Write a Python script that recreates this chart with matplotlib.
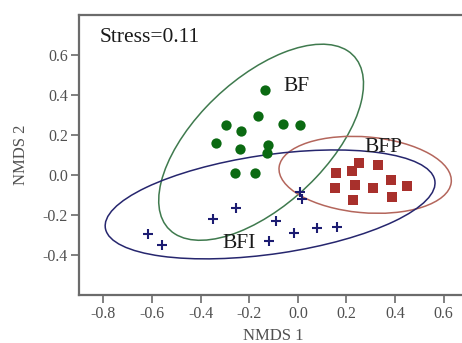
import matplotlib
matplotlib.use("Agg")
import matplotlib.pyplot as plt
from matplotlib.patches import Ellipse

# ── Data (NMDS scores) ───────────────────────────────────────────────────────
bf_x = [-0.136, -0.162, -0.296, -0.234, -0.059, 0.011,
        -0.337, -0.237, -0.121, -0.127, -0.258, -0.178]
bf_y = [0.425, 0.295, 0.249, 0.222, 0.255, 0.249,
        0.159, 0.132, 0.152, 0.108, 0.012, 0.012]

bfp_x = [0.155, 0.222, 0.252, 0.329, 0.382, 0.449,
         0.153, 0.234, 0.311, 0.389, 0.229]
bfp_y = [0.012, 0.019, 0.059, 0.049, -0.023, -0.057,
         -0.065, -0.048, -0.065, -0.108, -0.127]

bfi_x = [-0.618, -0.557, -0.347, -0.254, -0.089, -0.118,
         -0.016, 0.079, 0.162, 0.007, 0.019]
bfi_y = [-0.293, -0.352, -0.222, -0.165, -0.230, -0.328,
         -0.288, -0.265, -0.258, -0.085, -0.122]

# group ellipses: centre x, centre y, width, height, angle (data units)
ell_bf  = [-0.151, 0.164, 1.159, 0.573, 52.2]
ell_bfp = [0.277, 0.001, 0.712, 0.379, -6.5]
ell_bfi = [-0.114, -0.147, 1.376, 0.494, 10.3]

groups = ["BF", "BFP", "BFI"]
label_pos = [(-0.06, 0.445), (0.273, 0.139), (-0.312, -0.342)]
stress = 0.11

x_ticks = [-0.8, -0.6, -0.4, -0.2, 0.0, 0.2, 0.4, 0.6]
y_ticks = [-0.4, -0.2, 0.0, 0.2, 0.4, 0.6]

# ── Style ────────────────────────────────────────────────────────────────────
GREEN   = "#0b6a12"
GREEN_E = "#3f7a4e"
RED     = "#a8302c"
RED_E   = "#b4665c"
BLUE    = "#1c1c72"
BLUE_E  = "#26266e"
SPINE   = "#6b6b6b"
TICKTXT = "#505050"

plt.rcParams["font.family"] = ["Liberation Serif", "DejaVu Serif"]

fig = plt.figure(figsize=(4.62, 3.43), dpi=100)
ax = fig.add_axes([0.171, 0.140, 0.842, 0.816])

for (cx, cy, w, h, ang), col in [(ell_bf, GREEN_E), (ell_bfp, RED_E), (ell_bfi, BLUE_E)]:
    ax.add_patch(Ellipse((cx, cy), w, h, angle=ang, fill=False,
                         edgecolor=col, linewidth=1.1, zorder=2))

ax.scatter(bf_x, bf_y, s=55, marker="o", color=GREEN, linewidths=0, zorder=3)
ax.scatter(bfp_x, bfp_y, s=50, marker="s", color=RED, linewidths=0, zorder=3)
ax.scatter(bfi_x, bfi_y, s=62, marker="+", color=BLUE, linewidths=1.5, zorder=3)

for name, (lx, ly) in zip(groups, label_pos):
    ax.text(lx, ly, name, ha="left", va="center", fontsize=15.5, color="#1a1a1a", zorder=4)

ax.text(-0.817, 0.687, f"Stress={stress}", ha="left", va="center",
        fontsize=15.5, color="#1a1a1a")

ax.set_xlim(-0.9, 0.7)
ax.set_ylim(-0.6, 0.8)
ax.set_xticks(x_ticks)
ax.set_yticks(y_ticks)
ax.set_xticklabels([f"{v:.1f}" for v in x_ticks])
ax.set_yticklabels([f"{v:.1f}" for v in y_ticks])
ax.tick_params(direction="out", length=6, width=1.2, color=SPINE,
               labelsize=11.5, labelcolor=TICKTXT, pad=2)

for side in ["left", "bottom", "top", "right"]:
    ax.spines[side].set_color(SPINE)
    ax.spines[side].set_linewidth(1.6)

ax.set_xlabel("NMDS 1", fontsize=12, color=TICKTXT, labelpad=4)
ax.set_ylabel("NMDS 2", fontsize=12, color=TICKTXT, labelpad=10)

fig.savefig("out.png", dpi=100)
